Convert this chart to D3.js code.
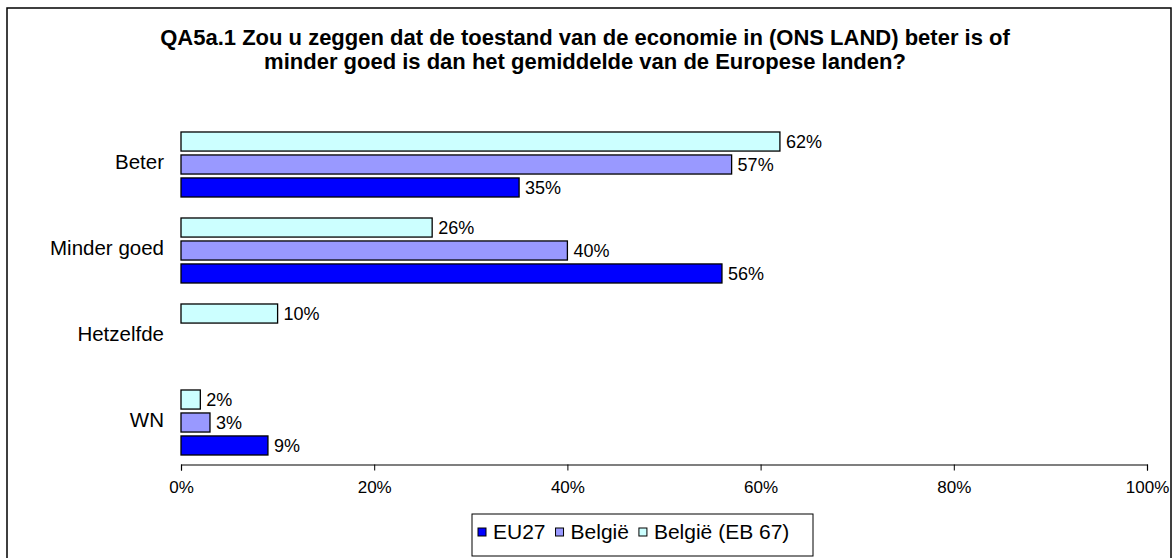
<!DOCTYPE html>
<html>
<head>
<meta charset="utf-8">
<script src="https://cdn.jsdelivr.net/npm/d3@7"></script>
<style>
  html, body { margin: 0; padding: 0; background: #fff; }
  svg { display: block; font-family: "Liberation Sans", Arial, sans-serif; }
</style>
</head>
<body>
<svg id="chart" width="1173" height="558"></svg>
<script>
// ---- data ----
const titleLines = [
  "QA5a.1 Zou u zeggen dat de toestand van de economie in (ONS LAND) beter is of",
  "minder goed is dan het gemiddelde van de Europese landen?"
];
const categories = ["Beter", "Minder goed", "Hetzelfde", "WN"];
const seriesNames = ["België (EB 67)", "België", "EU27"];   // order top -> bottom inside a group
const valuesEB67 = [62, 26, 10, 2];
const valuesBelgie = [57, 40, null, 3];
const valuesEU27 = [35, 56, null, 9];
const tickValues = [0, 20, 40, 60, 80, 100];
const legendOrder = ["EU27", "België", "België (EB 67)"];
const colors = { "EU27": "#0000FF", "België": "#9999FF", "België (EB 67)": "#CCFFFF" };

const seriesValues = {
  "België (EB 67)": valuesEB67,
  "België": valuesBelgie,
  "EU27": valuesEU27
};

// ---- layout ----
const svg = d3.select("#chart");
const plot = { left: 181, right: 1147, top: 121.5, bottom: 465.5 };

// frame
svg.append("rect")
  .attr("x", 7).attr("y", 8).attr("width", 1164).attr("height", 560)
  .attr("fill", "#fff").attr("stroke", "#000").attr("stroke-width", 1.5);

// title
svg.append("text")
  .attr("x", 585).attr("y", 45)
  .attr("text-anchor", "middle")
  .attr("font-weight", "bold").attr("font-size", 22)
  .selectAll("tspan").data(titleLines).join("tspan")
  .attr("x", 585).attr("dy", (d, i) => i === 0 ? 0 : 24)
  .text(d => d);

// scales
const x = d3.scaleLinear().domain([0, 100]).range([plot.left, plot.right]);
const y = d3.scaleBand().domain(categories).range([plot.top, plot.bottom])
  .paddingInner(0.244).paddingOuter(0.122);
const yInner = d3.scaleBand().domain(seriesNames).range([0, y.bandwidth()]).paddingInner(0.17);

// x axis
const xAxis = d3.axisBottom(x).tickValues(tickValues).tickFormat(d => d + "%").tickSize(6).tickPadding(10);
const gx = svg.append("g").attr("transform", `translate(0,${plot.bottom - 1})`).call(xAxis);
gx.select(".domain").attr("stroke", "#000").attr("stroke-width", 1.2);
gx.selectAll(".tick line").attr("stroke", "#000");
gx.selectAll(".tick text").attr("font-size", 17).attr("fill", "#000")
  .attr("font-family", "'Liberation Sans', Arial, sans-serif");

// category labels
svg.append("g").selectAll("text").data(categories).join("text")
  .attr("x", 164)
  .attr("y", d => y(d) - y.paddingOuter() * y.step() + y.step() / 2 - 3)
  .attr("dy", "0.35em")
  .attr("text-anchor", "end")
  .attr("font-size", 20.5)
  .text(d => d);

// bars
const barData = [];
categories.forEach((c, ci) => {
  seriesNames.forEach(s => {
    const v = seriesValues[s][ci];
    if (v !== null && v !== undefined) barData.push({ cat: c, series: s, value: v });
  });
});

const gb = svg.append("g");
gb.selectAll("rect").data(barData).join("rect")
  .attr("x", x(0))
  .attr("y", d => y(d.cat) + yInner(d.series))
  .attr("width", d => x(d.value) - x(0))
  .attr("height", yInner.bandwidth())
  .attr("fill", d => colors[d.series])
  .attr("stroke", "#000").attr("stroke-width", 1.3);

gb.selectAll("text").data(barData).join("text")
  .attr("x", d => x(d.value) + 6)
  .attr("y", d => y(d.cat) + yInner(d.series) + yInner.bandwidth() / 2)
  .attr("dy", "0.35em")
  .attr("font-size", 18)
  .text(d => d.value + "%");

// legend
const lg = svg.append("g");
lg.append("rect")
  .attr("x", 472).attr("y", 514).attr("width", 341).attr("height", 42)
  .attr("fill", "#fff").attr("stroke", "#000").attr("stroke-width", 1);
let lx = 478;
const ly = 532;
legendOrder.forEach(name => {
  lg.append("rect")
    .attr("x", lx).attr("y", ly - 4).attr("width", 8).attr("height", 8)
    .attr("fill", colors[name]).attr("stroke", "#000").attr("stroke-width", 1);
  const t = lg.append("text")
    .attr("x", lx + 15).attr("y", ly).attr("dy", "0.35em")
    .attr("font-size", 21).text(name);
  const w = t.node().getComputedTextLength();
  lx = lx + 15 + w + 10;
});
</script>
</body>
</html>
